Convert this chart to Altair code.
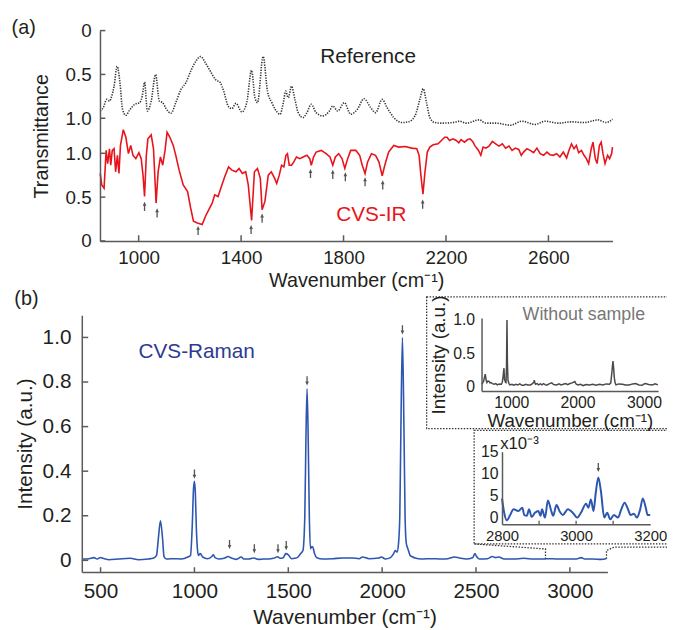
import altair as alt
import pandas as pd

FONT = "Liberation Sans"
INK = "#231f20"
GRAY = "#5a5a5a"
RED = "#e8141b"
BLUE = "#2d56b0"

# ---------------- (a) IR spectra ----------------
ref_w = [850, 862, 875, 886, 895, 904, 916, 927, 937, 950,
         965, 985, 1004, 1014, 1023, 1034, 1049, 1066, 1081, 1094,
         1107, 1126, 1145, 1165, 1184, 1203, 1223, 1242, 1261, 1280,
         1300, 1319, 1332, 1351, 1364, 1380, 1403, 1422, 1441, 1454,
         1464, 1486, 1503, 1520, 1533, 1552, 1565, 1574, 1584, 1597,
         1610, 1623, 1642, 1657, 1674, 1693, 1719, 1745, 1758, 1777,
         1803, 1828, 1854, 1880, 1906, 1925, 1951, 1970, 1996, 2028,
         2053, 2079, 2098, 2111, 2124, 2137, 2156, 2182, 2227, 2253,
         2278, 2330, 2356, 2394, 2452, 2497, 2548, 2587, 2638, 2690,
         2741, 2793, 2825, 2850]
ref_t = [0.917, 0.879, 0.785, 0.804, 0.747, 0.634, 0.408, 0.596, 0.898, 0.966,
         0.905, 0.841, 0.822, 0.747, 0.589, 0.917, 0.804, 0.502, 0.804, 0.822,
         0.890, 0.943, 0.822, 0.672, 0.596, 0.464, 0.351, 0.295, 0.370, 0.464,
         0.558, 0.596, 0.691, 0.868, 0.890, 0.830, 0.928, 0.822, 0.453, 0.766,
         0.822, 0.295, 0.691, 0.822, 0.898, 0.954, 0.822, 0.691, 0.766, 0.634,
         0.785, 0.936, 0.992, 0.936, 0.841, 0.936, 0.973, 0.917, 0.860, 0.917,
         0.822, 0.954, 0.898, 0.777, 0.879, 0.936, 0.785, 0.879, 0.992, 1.049,
         1.041, 0.973, 0.785, 0.664, 0.822, 0.992, 1.049, 1.056, 1.049, 1.034,
         1.056, 1.019, 1.056, 1.056, 1.079, 1.034, 1.071, 1.034, 1.056, 1.041,
         1.049, 1.019, 1.049, 1.011]

ir_w = [850, 856, 865, 873, 879, 886, 891, 897, 904, 910,
        917, 923, 929, 940, 950, 960, 969, 978, 989, 1001,
        1010, 1017, 1023, 1030, 1036, 1049, 1058, 1068, 1076, 1085,
        1094, 1103, 1111, 1122, 1135, 1145, 1158, 1174, 1191, 1203,
        1214, 1229, 1248, 1261, 1274, 1287, 1297, 1310, 1323, 1336,
        1351, 1364, 1380, 1392, 1405, 1418, 1428, 1441, 1452, 1464,
        1475, 1482, 1493, 1506, 1518, 1531,
        1539, 1549, 1558, 1567, 1575, 1581, 1588, 1597, 1606, 1616,
        1629, 1642, 1657, 1668, 1674, 1683, 1693, 1713, 1732, 1747,
        1758, 1768, 1781, 1794, 1805, 1816, 1828, 1848, 1863, 1873,
        1884, 1894, 1909, 1925, 1938, 1951, 1961, 1976, 1996, 2015,
        2041, 2066, 2086, 2095, 2102, 2110, 2118, 2127, 2137, 2150,
        2169, 2182, 2195,
        2204, 2214, 2227, 2240, 2250, 2259, 2272, 2285, 2294, 2304,
        2314, 2327, 2336, 2345, 2356, 2368, 2381, 2394, 2407, 2420,
        2433, 2446, 2458, 2471, 2484, 2494, 2503, 2516, 2529, 2542,
        2555, 2568, 2581, 2594, 2606, 2619, 2632, 2645, 2658, 2671,
        2680, 2690, 2700, 2709, 2718, 2729, 2739, 2748, 2757, 2767,
        2774, 2783, 2790, 2799, 2806, 2813, 2821, 2831, 2839, 2847,
        2850]
ir_t = [0.770, 0.639, 0.601, 1.033, 0.883, 1.052, 0.864, 1.033, 1.052, 0.789,
        0.977, 0.770, 1.090, 1.270, 1.183, 0.996, 1.090, 0.977, 0.939, 1.007,
        0.939, 0.751, 0.507, 0.977, 1.165, 1.210, 1.052, 0.432, 0.789, 0.958,
        0.864, 1.033, 1.240, 1.183, 1.090, 0.977, 0.808, 0.639, 0.563, 0.376,
        0.225, 0.206, 0.188, 0.282, 0.357, 0.432, 0.526, 0.507, 0.620, 0.733,
        0.845, 0.808, 0.789, 0.827, 0.770, 0.789, 0.639, 0.233, 0.789, 0.827,
        0.714, 0.357, 0.451, 0.751, 0.789, 0.714,
        0.657, 0.751, 0.864, 0.845, 0.977, 0.996, 0.864, 0.864, 0.902, 0.958,
        0.939, 0.958, 0.977, 0.939, 0.864, 0.958, 1.014, 1.033, 0.996, 0.958,
        0.864, 0.958, 0.996, 0.939, 0.827, 0.939, 1.033, 1.033, 0.977, 0.864,
        0.770, 0.902, 0.996, 0.977, 0.902, 0.744, 0.864, 1.014, 1.090, 1.071,
        1.078, 1.059, 1.052, 0.977, 0.751, 0.533, 0.789, 1.014, 1.071, 1.097,
        1.108, 1.146, 1.183,
        1.183, 1.146, 1.165, 1.146, 1.120, 1.157, 1.127, 1.157, 1.165, 1.135,
        1.082, 1.033, 0.977, 1.071, 1.059, 1.082, 1.135, 1.108, 1.082, 1.108,
        1.059, 1.082, 1.033, 1.059, 1.044, 0.977, 1.014, 1.052, 1.033, 1.007,
        1.059, 0.996, 0.977, 1.014, 0.984, 0.977, 0.996, 0.958, 1.014, 0.947,
        1.033, 1.108, 1.052, 1.090, 1.007, 1.033, 0.977, 0.939, 0.883, 1.052,
        1.127, 0.939, 0.883, 1.090, 1.127, 0.996, 0.883, 0.977, 0.939, 0.996,
        1.071]

ir_arrow_w = [1023, 1072, 1232, 1439, 1482, 1671, 1758, 1807, 1884, 1953, 2109]
ir_arrow_t = [0.395, 0.32, 0.12, 0.13, 0.26, 0.77, 0.76, 0.733, 0.676, 0.64, 0.42]

REF_SHIFT = 2.4          # reference curve drawn on the upper, inverted part of the axis
ir_tick_x = [1000, 1400, 1800, 2200, 2600]
ir_tick_y = [0, 0.5, 1.0, 1.4, 1.9, 2.4]

# ---------------- (b) Raman spectra ----------------
raman_w = [403, 438, 465, 482, 500, 512, 544, 596, 658, 702,
           754, 780, 798, 808, 819, 830, 838, 851, 895, 930,
           965, 979, 989, 995, 1000, 1005, 1010, 1016, 1021, 1031,
           1044, 1070, 1093, 1101, 1110, 1131, 1158, 1180, 1196, 1224,
           1249, 1263, 1289, 1315, 1342, 1368, 1394, 1421, 1444, 1456,
           1473, 1487, 1500, 1517, 1535, 1552, 1565, 1578, 1588, 1594,
           1600, 1606, 1612, 1618, 1625, 1631, 1640, 1652, 1684, 1736,
           1789, 1842, 1877, 1895, 1930, 1982, 1996, 2017, 2044, 2061,
           2070, 2079, 2087, 2094, 2100, 2108, 2116, 2122, 2128, 2134,
           2140, 2149, 2158, 2175, 2210, 2263, 2316, 2351, 2386, 2412,
           2447, 2482, 2494, 2503, 2517, 2561, 2587, 2605, 2622, 2649,
           2701, 2754, 2807, 2859, 2894, 2929, 2982, 3035, 3061, 3079,
           3122, 3166, 3193]
raman_i = [0.006, 0.0075, 0.012, 0.006, 0.013, 0.009, 0.003, 0.006, 0.009, 0.003,
           0.006, 0.009, 0.022, 0.10, 0.177, 0.10, 0.017, 0.006, 0.0075, 0.006,
           0.015, 0.022, 0.17, 0.32, 0.355, 0.30, 0.148, 0.05, 0.022, 0.03,
           0.015, 0.0075, 0.017, 0.025, 0.012, 0.006, 0.009, 0.017, 0.0105, 0.0044,
           0.015, 0.006, 0.006, 0.0105, 0.0044, 0.006, 0.006, 0.009, 0.016, 0.009,
           0.012, 0.03, 0.025, 0.0075, 0.009, 0.015, 0.03, 0.044, 0.2, 0.55,
           0.77, 0.55, 0.2, 0.052, 0.062, 0.059, 0.03, 0.012, 0.006, 0.0075,
           0.0105, 0.0105, 0.0075, 0.015, 0.0075, 0.0105, 0.015, 0.006, 0.012, 0.03,
           0.044, 0.037, 0.074, 0.2, 0.6, 1.0, 0.6, 0.2, 0.08, 0.059,
           0.044, 0.022, 0.017, 0.0105, 0.006, 0.0075, 0.006, 0.0075, 0.015, 0.0105,
           0.006, 0.012, 0.03, 0.017, 0.006, 0.0075, 0.017, 0.012, 0.015, 0.006,
           0.006, 0.009, 0.006, 0.006, 0.0075, 0.006, 0.006, 0.006, 0.012, 0.006,
           0.006, 0.0044, 0.0075]
raman_arrow_w = [1000, 1187, 1319, 1445, 1489, 1600, 2108]
raman_arrow_i = [0.387, 0.071, 0.052, 0.052, 0.066, 0.805, 1.034]
raman_tick_x = [500, 1000, 1500, 2000, 2500, 3000]
raman_tick_y = [0, 0.2, 0.4, 0.6, 0.8, 1.0]

# inset boxes and zoom connectors (in main Raman coordinates)
box_w1 = [2237, 2490]
box_w2 = [3560, 3560]
box_i1 = [0.591, 0.0736]
box_i2 = [1.182, 0.583]
conn_w = [2490, 2870, 2870, 3195, 3195, 3235, 3560]
conn_i = [0.0736, 0.051, 0.007, 0.007, 0.044, 0.059, 0.059]
conn_g = ["L", "L", "L", "R", "R", "R", "R"]

# inset 1: without sample
blank_w = [554, 570, 583, 596, 609, 622, 634, 650, 668, 680,
           693, 718, 743, 768, 792, 820, 851, 865, 876, 884,
           891, 898, 906, 914, 921, 929, 936, 943, 951, 966,
           981, 1010, 1040, 1070, 1100, 1130, 1160, 1189, 1220, 1250,
           1289, 1320, 1340, 1348, 1356, 1368, 1390, 1412, 1440, 1465,
           1487, 1510, 1536, 1570, 1610, 1640, 1685, 1720, 1750, 1784,
           1820, 1850, 1884, 1920, 1958, 1980, 2007, 2045, 2082, 2130,
           2181, 2230, 2280, 2330, 2380, 2430, 2479, 2500, 2514, 2524,
           2533, 2543, 2553, 2565, 2578, 2620, 2677, 2720, 2777, 2830,
           2875, 2925, 2975, 3000, 3024, 3070, 3124, 3170, 3210]
blank_i = [0.04, 0.06, 0.08, 0.14, 0.19, 0.10, 0.065, 0.09, 0.08, 0.06,
           0.065, 0.05, 0.04, 0.05, 0.03, 0.045, 0.04, 0.07, 0.14, 0.22,
           0.28, 0.12, 0.09, 0.07, 0.065, 0.3, 1.0, 0.35, 0.1, 0.05,
           0.03, 0.04, 0.025, 0.04, 0.03, 0.045, 0.025, 0.025, 0.04, 0.03,
           0.03, 0.05, 0.07, 0.1, 0.06, 0.04, 0.05, 0.03, 0.045, 0.03,
           0.05, 0.035, 0.025, 0.045, 0.06, 0.035, 0.03, 0.045, 0.03, 0.04,
           0.05, 0.035, 0.05, 0.06, 0.08, 0.04, 0.03, 0.04, 0.02, 0.035,
           0.03, 0.04, 0.025, 0.04, 0.03, 0.045, 0.04, 0.06, 0.19, 0.3,
           0.385, 0.28, 0.14, 0.06, 0.03, 0.045, 0.04, 0.03, 0.03, 0.045,
           0.05, 0.03, 0.025, 0.045, 0.05, 0.035, 0.03, 0.045, 0.03]

# inset 2: 2800-3200 zoom (x10^-3)
zoom_w = [2800, 2805, 2813, 2822, 2831, 2844, 2855, 2860, 2867, 2873,
          2880, 2889, 2898, 2904, 2908, 2916, 2924, 2933, 2938, 2947,
          2956, 2964, 2978, 2991, 3003, 3013, 3027, 3033, 3040, 3047,
          3053, 3060, 3067, 3076, 3084, 3092, 3102, 3113, 3122, 3131,
          3140, 3147, 3156, 3164, 3173, 3180, 3188, 3193, 3200]
zoom_i = [4.35, 1.5, -0.6, 0.6, 1.9, 1.5, 2.25, 0.6, 0.4, 1.9,
          0.15, 1.1, 1.5, 0.4, 1.9, 0.0, 3.9, 1.5, 0.4, 2.85,
          1.35, 0.6, 1.9, 1.1, 0.0, 1.1, 3.15, 2.25, 4.1, 1.5,
          5.6, 9.15, 6.0, 0.0, 1.1, -0.4, 0.6, 0.0, 1.9, 3.4,
          1.9, 0.6, 0.9, 0.0, 1.9, 4.35, 2.25, 0.6, 0.6]
zoom_arrow_w = [3060]
zoom_arrow_i = [11.4]
zoom_tick_x = [2900, 3000, 3100]

# ---------------- layout (pixel placement of each panel) ----------------
W, H = 667, 622


def axis(orient, offset, values, size, title, tsize, lpad, tpad, expr=None, fmt=None):
    kw = dict(orient=orient, offset=offset, values=values, grid=False, ticks=False,
              labelFont=FONT, labelFontSize=size, labelColor=INK,
              labelPadding=lpad, labelFlush=False, labelOverlap=False,
              domainColor=GRAY, domainWidth=1.5, title=title, titleFont=FONT,
              titleFontSize=tsize, titleFontWeight="normal", titleColor=INK,
              titlePadding=tpad, zindex=1)
    if expr is not None:
        kw["labelExpr"] = expr
    if fmt is not None:
        kw["format"] = fmt
    return alt.Axis(**kw)


def sc(domain, rng):
    return alt.Scale(domain=domain, range=rng, nice=False, zero=False)


def xenc(field, scale, ax=None):
    return alt.X(field, scale=scale, axis=ax)


def yenc(field, scale, ax=None):
    return alt.Y(field, scale=scale, axis=ax)


def txt(x, y, t, scx, scy, **mk):
    df = pd.DataFrame({"x": [x], "y": [y], "t": [t]})
    return alt.Chart(df).mark_text(font=FONT, **mk).encode(
        x=xenc("x:Q", scx), y=yenc("y:Q", scy), text="t:N")


ARROW = dict(shape="arrow", filled=True, size=85, color="#555555", opacity=1)
layers = []

# ---- panel (a)
xa = sc([849, 2850], [93.1, 611.8])
ya = sc([0, REF_SHIFT], [232, 19.1])
ax_ax = axis("bottom", 232 - H, ir_tick_x, 19, "Wavenumber (cm⁻¹)", 20, 7.5, 4, fmt="d")
ax_ay = axis("left", -93.1, ir_tick_y, 19, "Transmittance", 20, 9, 14,
             expr="datum.value > 1.2 ? (abs(2.4 - datum.value) < 0.01 ? '0' : format(2.4 - datum.value, '.1f')) : (datum.value < 0.01 ? '0' : format(datum.value, '.1f'))")

layers.append(alt.Chart(pd.DataFrame({"w": ref_w, "t": ref_t})).transform_calculate(
    u=f"{REF_SHIFT} - datum.t"
).mark_line(color="#333333", strokeWidth=1.6, strokeDash=[1.3, 1.3], interpolate="monotone").encode(
    x=xenc("w:Q", xa, ax_ax), y=yenc("u:Q", ya, ax_ay)))
layers.append(alt.Chart(pd.DataFrame({"w": ir_w, "t": ir_t})).mark_line(
    color=RED, strokeWidth=1.6).encode(x=xenc("w:Q", xa), y=yenc("t:Q", ya)))
layers.append(alt.Chart(pd.DataFrame({"w": ir_arrow_w, "t": ir_arrow_t})).mark_point(
    **ARROW).encode(x=xenc("w:Q", xa), y=yenc("t:Q", ya)))
layers.append(alt.Chart(pd.DataFrame({"w": ir_tick_x, "y0": 0.0, "y1": 0.065})).mark_rule(
    color=GRAY, strokeWidth=1.5).encode(x=xenc("w:Q", xa), y=yenc("y0:Q", ya), y2="y1:Q"))
layers.append(alt.Chart(pd.DataFrame({"u": ir_tick_y, "x0": 849, "x1": 870})).mark_rule(
    color=GRAY, strokeWidth=1.5).encode(y=yenc("u:Q", ya), x=xenc("x0:Q", xa), x2="x1:Q"))
layers.append(txt(1896, 2.03, "Reference", xa, ya, fontSize=21, color=INK,
                  baseline="alphabetic", align="center"))
layers.append(txt(1909, 0.225, "CVS-IR", xa, ya, fontSize=21, color=RED,
                  baseline="alphabetic", align="center"))
layers.append(txt(551, 2.424, "(a)", xa, ya, fontSize=20, color=INK,
                  baseline="middle", align="center"))

# ---- panel (b)
xb = sc([400, 3200], [74.7, 606.7])
yb = sc([-0.052, 1.1], [567.0, 307.1])
ax_bx = axis("bottom", 567 - H, raman_tick_x, 21, "Wavenumber (cm⁻¹)", 21, 8.5, 5.5, fmt="d")
ax_by = axis("left", -74.7, raman_tick_y, 21, "Intensity (a.u.)", 21, 11, 6.5,
             expr="datum.value == 0 ? '0' : format(datum.value, '.1f')")
layers.append(alt.Chart(pd.DataFrame({"w": raman_w, "i": raman_i})).mark_line(
    color=BLUE, strokeWidth=1.6, interpolate="monotone").encode(
    x=xenc("w:Q", xb, ax_bx), y=yenc("i:Q", yb, ax_by)))
layers.append(alt.Chart(pd.DataFrame({"w": raman_arrow_w, "i": raman_arrow_i})).mark_point(
    angle=180, **ARROW).encode(x=xenc("w:Q", xb), y=yenc("i:Q", yb)))
layers.append(alt.Chart(pd.DataFrame({"w": raman_tick_x, "y0": -0.052, "y1": -0.031})).mark_rule(
    color=GRAY, strokeWidth=1.5).encode(x=xenc("w:Q", xb), y=yenc("y0:Q", yb), y2="y1:Q"))
layers.append(alt.Chart(pd.DataFrame({"i": raman_tick_y, "x0": 400, "x1": 434})).mark_rule(
    color=GRAY, strokeWidth=1.5).encode(y=yenc("i:Q", yb), x=xenc("x0:Q", xb), x2="x1:Q"))
layers.append(txt(702, 0.909, "CVS-Raman", xb, yb, fontSize=21, color="#2e3a92",
                  baseline="alphabetic", align="left"))
layers.append(txt(105, 1.172, "(b)", xb, yb, fontSize=20, color=INK,
                  baseline="middle", align="center"))
layers.append(alt.Chart(pd.DataFrame({"w1": box_w1, "w2": box_w2, "i1": box_i1, "i2": box_i2})).mark_rect(
    fill="white", stroke="#333333", strokeWidth=1.3, strokeDash=[1.5, 1.5]).encode(
    x=xenc("w1:Q", xb), x2="w2:Q", y=yenc("i1:Q", yb), y2="i2:Q"))
layers.append(alt.Chart(pd.DataFrame({"w": conn_w, "i": conn_i, "g": conn_g,
                                      "k": list(range(len(conn_w)))})).mark_line(
    color="#333333", strokeWidth=1.3, strokeDash=[1.5, 1.5]).encode(
    x=xenc("w:Q", xb), y=yenc("i:Q", yb), detail="g:N", order="k:Q"))

# ---- inset 1 (without sample)
x1 = sc([553, 3213], [479.3, 658.0])
y1 = sc([-0.06, 1.03], [383.8, 310.0])
ax_1x = axis("bottom", 383.8 - H, [1000, 2000, 3000], 16, "Wavenumber (cm⁻¹)", 19, 4, 1.5, fmt="d")
ax_1y = axis("left", -479.3, [0, 0.5, 1.0], 16, "Intensity (a.u.)", 19, 7, 4,
             expr="datum.value == 0 ? '0' : format(datum.value, '.1f')")
layers.append(alt.Chart(pd.DataFrame({"w": blank_w, "i": blank_i})).mark_line(
    color="#4a4a4a", strokeWidth=1.5).encode(
    x=xenc("w:Q", x1, ax_1x), y=yenc("i:Q", y1, ax_1y)))
layers.append(txt(2094, 1.0, "Without sample", x1, y1, fontSize=18, color="#777777",
                  baseline="alphabetic", align="center"))

# ---- inset 2 (2800-3200 zoom)
x2 = sc([2800, 3200], [500, 650])
y2 = sc([-1.5, 15], [518.7, 445.3])
ax_2x = axis("bottom", 518.7 - H, [2800, 3000, 3200], 15, "", 15, 4, 0, fmt="d")
ax_2y = axis("left", -500, [0, 5, 10, 15], 16, "", 16, 4, 0)
layers.append(alt.Chart(pd.DataFrame({"w": zoom_w, "i": zoom_i})).mark_line(
    color=BLUE, strokeWidth=2, interpolate="monotone").encode(
    x=xenc("w:Q", x2, ax_2x), y=yenc("i:Q", y2, ax_2y)))
layers.append(alt.Chart(pd.DataFrame({"w": zoom_arrow_w, "i": zoom_arrow_i})).mark_point(
    angle=180, **ARROW).encode(x=xenc("w:Q", x2), y=yenc("i:Q", y2)))
layers.append(alt.Chart(pd.DataFrame({"w": zoom_tick_x, "y0": -1.5, "y1": -0.7})).mark_rule(
    color=GRAY, strokeWidth=1.3).encode(x=xenc("w:Q", x2), y=yenc("y0:Q", y2), y2="y1:Q"))
layers.append(txt(2795, 15.6, "x10⁻³", x2, y2, fontSize=17, color=INK,
                  baseline="alphabetic", align="left"))

chart = alt.layer(*layers).resolve_scale(
    x="independent", y="independent"
).properties(
    width=W, height=H, padding=0, autosize=alt.AutoSizeParams(type="none")
).configure(font=FONT).configure_view(stroke=None)

chart.save("out.html", embed_options={"renderer": "svg", "actions": False})
